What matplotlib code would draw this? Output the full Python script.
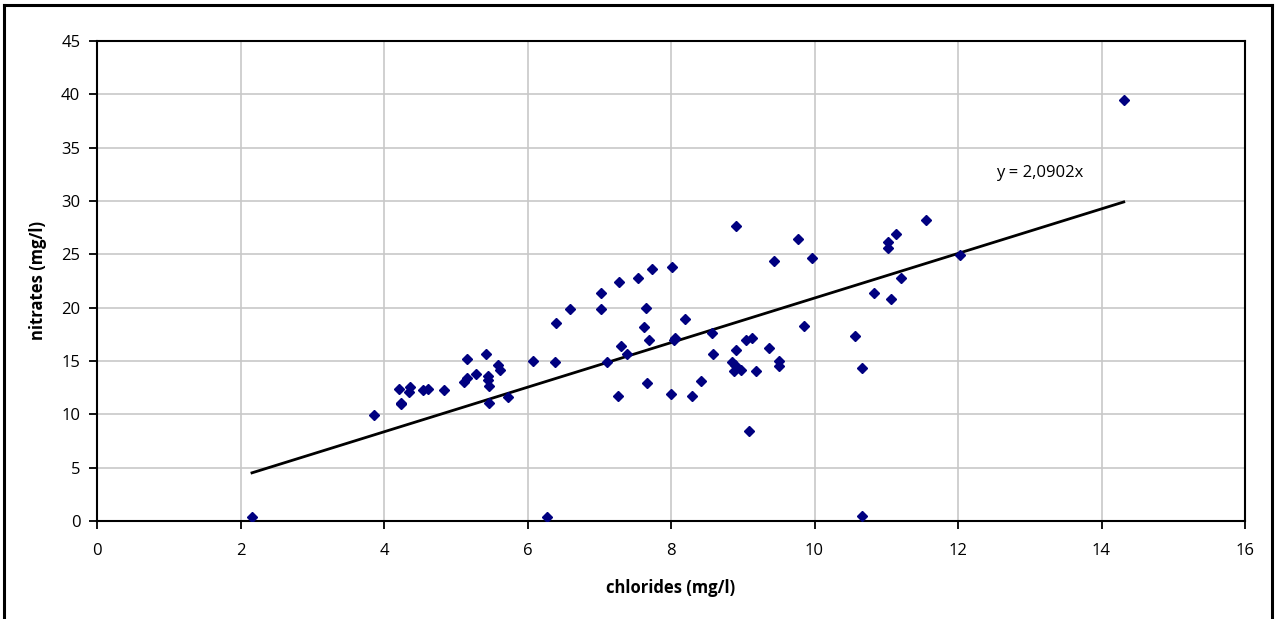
import matplotlib.pyplot as plt
from matplotlib.lines import Line2D
import numpy as np

plt.rcParams['font.family'] = ['Open Sans', 'DejaVu Sans']

# chlorides (mg/l) vs nitrates (mg/l) per sample
chlorides = [2.16, 3.86, 4.21, 4.24, 4.23, 4.35, 4.36, 4.55, 4.62, 4.83,
             5.11, 5.16, 5.15, 5.28, 5.42, 5.45, 5.45, 5.46, 5.46, 5.59,
             5.62, 5.73, 6.08, 6.38, 6.27, 6.40, 6.59, 7.02, 7.02, 7.28,
             7.54, 7.74, 8.01, 7.65, 7.63, 7.69, 7.30, 7.39, 7.11, 7.26,
             7.67, 8.00, 8.06, 8.04, 8.20, 8.29, 8.42, 8.57, 8.59, 8.90,
             8.85, 8.89, 8.88, 8.98, 9.04, 9.13, 9.19, 9.37, 9.51, 9.51,
             9.09, 9.43, 9.77, 9.97, 9.86, 8.90, 10.57, 10.66, 10.66, 10.83,
             11.06, 11.02, 11.02, 11.13, 11.21, 11.56, 12.03, 14.31]
nitrates = [0.34, 9.97, 12.4, 10.97, 11.1, 12.1, 12.6, 12.3, 12.4, 12.25,
            13.06, 13.4, 15.2, 13.75, 15.7, 13.6, 13.2, 12.7, 11.1, 14.6,
            14.2, 11.65, 15.0, 14.9, 0.34, 18.6, 19.9, 21.4, 19.9, 22.4,
            22.8, 23.6, 23.8, 20.0, 18.2, 17.0, 16.4, 15.7, 14.9, 11.7,
            12.9, 11.9, 17.2, 17.0, 18.9, 11.7, 13.1, 17.6, 15.7, 16.0,
            14.9, 14.6, 14.1, 14.2, 17.0, 17.2, 14.1, 16.2, 15.0, 14.55,
            8.4, 24.4, 26.4, 24.65, 18.3, 27.7, 17.3, 14.3, 0.5, 21.4,
            20.8, 26.15, 25.6, 26.95, 22.8, 28.25, 24.9, 39.5]

slope = 2.0902
fit_label = 'y = 2,0902x'

fig = plt.figure(figsize=(12.77, 6.19), dpi=100)
ax = fig.add_axes([97 / 1277, 1 - 521 / 619, 1148 / 1277, 480 / 619])

ax.plot(chlorides, nitrates, linestyle='none', marker='D', markersize=5.5,
        color='#000080', zorder=3)

# linear trend through the origin over the data range
xs = np.array([min(chlorides), max(chlorides)])
ax.plot(xs, slope * xs, color='black', lw=2, zorder=2)
ax.text(13.14, 32.6, fit_label, fontsize=12, ha='center', va='center')

ax.set_xlim(0, 16)
ax.set_ylim(0, 45)
ax.set_xticks(np.arange(0, 17, 2))
ax.set_yticks(np.arange(0, 46, 5))
ax.grid(True, color='#c8c8c8', lw=1.2)
ax.set_axisbelow(True)
for s in ax.spines.values():
    s.set_color('black')
    s.set_linewidth(1.5)
ax.tick_params(direction='out', length=6, width=1.3, labelsize=12)
ax.tick_params(axis='x', pad=10)
ax.tick_params(axis='y', pad=6)

ax.set_xlabel('chlorides (mg/l)', fontsize=12, fontweight='bold', labelpad=14)
ax.set_ylabel('nitrates (mg/l)', fontsize=12, fontweight='bold', labelpad=10)

# chart frame
for xd, yd in [([4 / 1277, 4 / 1277], [0, 1 - 5 / 619]),
               ([4 / 1277, 1272 / 1277], [1 - 5 / 619, 1 - 5 / 619]),
               ([1272 / 1277, 1272 / 1277], [0, 1 - 5 / 619])]:
    fig.add_artist(Line2D(xd, yd, color='black', lw=2.2, transform=fig.transFigure))

fig.savefig('out.png', dpi=100)
